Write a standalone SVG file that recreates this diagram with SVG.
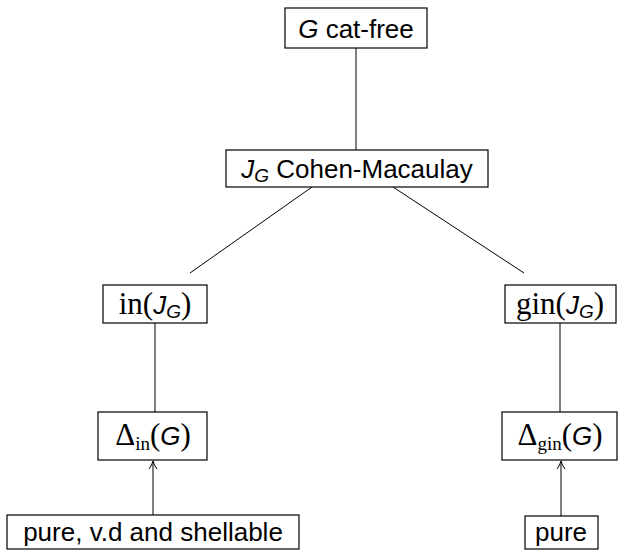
<svg xmlns="http://www.w3.org/2000/svg" width="618" height="560" viewBox="0 0 618 560">
  <style>
    .box { fill: #ffffff; stroke: #000000; stroke-width: 1.2; }
    .edge { fill: none; stroke: #000000; stroke-width: 1; }
    .sf { font-family: "Liberation Sans", "DejaVu Sans", sans-serif; font-size: 26px; fill: #000; }
    .it { font-family: "Liberation Sans", "DejaVu Sans", sans-serif; font-style: italic; }
    .rm { font-family: "Liberation Serif", "DejaVu Serif", serif; font-style: normal; font-size: 31px; }
    .sub { font-size: 19px; }
  </style>
  <defs>
    <marker id="tip" viewBox="0 0 10 10" refX="9" refY="5" markerWidth="10" markerHeight="10" markerUnits="userSpaceOnUse" orient="auto">
      <path d="M1,1 Q5,4 9,5 Q5,6 1,9" fill="none" stroke="#000" stroke-width="1"/>
    </marker>
  </defs>

  <g id="connectors">
    <line class="edge" x1="356" y1="48" x2="356" y2="150"/>
    <line class="edge" x1="312" y1="187" x2="190" y2="273"/>
    <line class="edge" x1="393" y1="187" x2="524" y2="273"/>
    <line class="edge" x1="155" y1="323" x2="155" y2="412"/>
    <line class="edge" x1="560" y1="323" x2="560" y2="412"/>
    <line class="edge" x1="153" y1="515" x2="153" y2="461" marker-end="url(#tip)"/>
    <line class="edge" x1="561" y1="516" x2="561" y2="461" marker-end="url(#tip)"/>
  </g>

  <g id="node-catfree">
    <rect class="box" x="285" y="8" width="142" height="40"/>
    <text class="sf" x="356" y="38" text-anchor="middle"><tspan class="it">G</tspan> cat-free</text>
  </g>

  <g id="node-cm">
    <rect class="box" x="226" y="150" width="262" height="37"/>
    <text class="sf" x="357" y="178" text-anchor="middle"><tspan class="it">J</tspan><tspan class="it sub" dy="4">G</tspan><tspan dy="-4"> Cohen-Macaulay</tspan></text>
  </g>

  <g id="node-in">
    <rect class="box" x="103" y="285" width="104" height="38"/>
    <text class="sf" x="155" y="314" text-anchor="middle"><tspan class="rm">in(</tspan><tspan class="it">J</tspan><tspan class="it sub" dy="4">G</tspan><tspan class="rm" dy="-4">)</tspan></text>
  </g>

  <g id="node-gin">
    <rect class="box" x="505" y="285" width="111" height="38"/>
    <text class="sf" x="560" y="314" text-anchor="middle"><tspan class="rm">gin(</tspan><tspan class="it">J</tspan><tspan class="it sub" dy="4">G</tspan><tspan class="rm" dy="-4">)</tspan></text>
  </g>

  <g id="node-delta-in">
    <rect class="box" x="98" y="412" width="109" height="48"/>
    <text class="sf" x="153" y="445" text-anchor="middle"><tspan class="rm">Δ</tspan><tspan class="rm sub" dy="5">in</tspan><tspan class="rm" dy="-5">(</tspan><tspan class="it">G</tspan><tspan class="rm">)</tspan></text>
  </g>

  <g id="node-delta-gin">
    <rect class="box" x="502" y="412" width="115" height="48"/>
    <text class="sf" x="560" y="445" text-anchor="middle"><tspan class="rm">Δ</tspan><tspan class="rm sub" dy="5">gin</tspan><tspan class="rm" dy="-5">(</tspan><tspan class="it">G</tspan><tspan class="rm">)</tspan></text>
  </g>

  <g id="node-shellable">
    <rect class="box" x="7" y="515" width="292" height="34"/>
    <text class="sf" x="153" y="541" text-anchor="middle">pure, v.d and shellable</text>
  </g>

  <g id="node-pure">
    <rect class="box" x="525" y="516" width="73" height="33"/>
    <text class="sf" x="561" y="541" text-anchor="middle">pure</text>
  </g>
</svg>
